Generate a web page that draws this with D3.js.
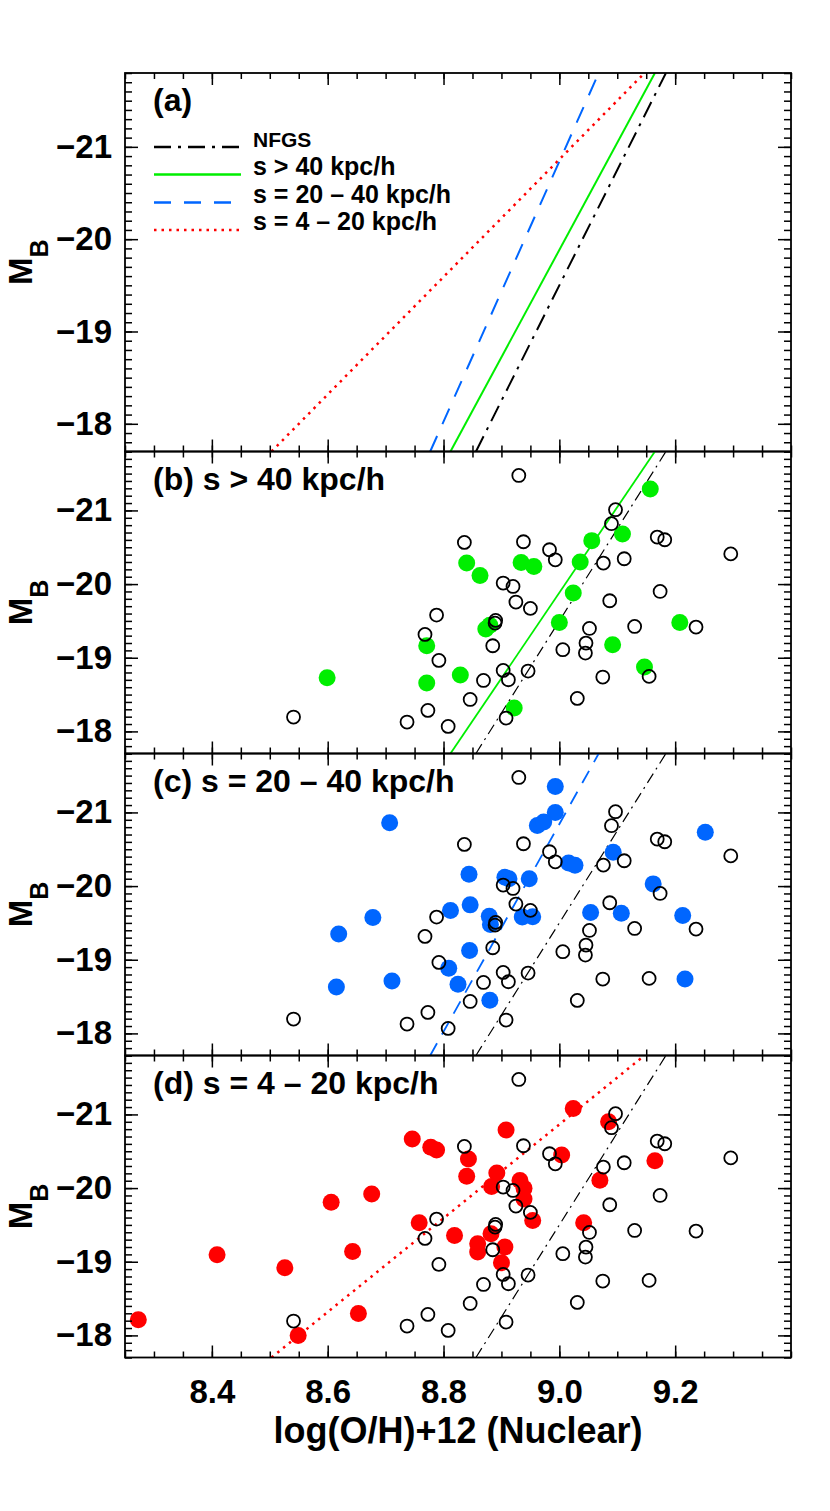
<!DOCTYPE html>
<html>
<head>
<meta charset="utf-8">
<style>
    body { margin: 0; background: #fff; }
    text { font-family: "Liberation Sans", Arial, Helvetica, sans-serif; font-weight: bold; }
</style>
</head>
<body>
<script src="https://d3js.org/d3.v7.min.js"></script>
<script>
    const width = 830;
    const height = 1511;
    const left = 125;
    const right = 791;
    const fontFamily = '"Liberation Sans", Arial, Helvetica, sans-serif';

    // panel frames (px)
    const panelTop = [73, 451.5, 753.5, 1055.5];
    const panelBottom = [451.5, 753.5, 1055.5, 1357.5];

    const xDomain = [8.25, 9.4];
    const yDomain = [-17.7, -21.8];
    const xTicks = [8.4, 8.6, 8.8, 9.0, 9.2];
    const yTicks = [-21, -20, -19, -18];

    const panelLabels = ["(a)", "(b) s > 40 kpc/h", "(c) s = 20 \u2013 40 kpc/h", "(d) s = 4 \u2013 20 kpc/h"];

    // fitted relations: log(O/H)+12 where the line crosses M_B = -17.7 and M_B = -21.8
    const fitNames = ["NFGS", "s > 40 kpc/h", "s = 20 \u2013 40 kpc/h", "s = 4 \u2013 20 kpc/h"];
    const fitOHfaint = [8.856, 8.812, 8.777, 8.503];
    const fitOHbright = [9.184, 9.165, 9.068, 9.147];
    const fitColors = ["#000000", "#00ee00", "#0066ff", "#ff0000"];

    // NFGS sample (open circles, same in b, c, d)
    const nfgsOH = [8.930, 9.097, 9.090, 8.836, 8.938, 8.983, 8.993, 9.076, 9.112, 9.169, 9.182, 9.296,
        8.903, 8.920, 8.925, 8.950, 9.087, 9.174, 8.788, 8.890, 8.889, 8.768, 9.052, 9.130, 9.236,
        9.046, 9.045, 9.006, 8.885, 8.792, 8.903, 8.912, 8.946, 8.869, 9.075, 9.155, 8.846, 9.031,
        8.773, 8.541, 8.737, 8.808, 8.908];
    const nfgsMB = [-21.475, -21.01, -20.82, -20.566, -20.575, -20.466, -20.33, -20.285, -20.344, -20.638, -20.602, -20.41,
        -20.014, -19.968, -19.756, -19.67, -19.774, -19.90, -19.579, -19.507, -19.47, -19.317, -19.398, -19.425, -19.416,
        -19.199, -19.063, -19.109, -19.163, -18.964, -18.828, -18.701, -18.819, -18.692, -18.738, -18.747, -18.434, -18.448,
        -18.285, -18.195, -18.127, -18.068, -18.181];

    // s > 40 kpc/h
    const farOH = [9.157, 9.109, 9.056, 8.840, 8.863, 8.934, 8.956, 9.036, 9.024, 8.873, 8.880, 9.000, 9.208,
        8.771, 9.092, 9.147, 8.599, 8.771, 8.829, 8.922];
    const farMB = [-21.29, -20.68, -20.59, -20.285, -20.118, -20.294, -20.24, -20.30, -19.878, -19.39, -19.44, -19.48, -19.48,
        -19.163, -19.176, -18.873, -18.729, -18.656, -18.765, -18.317];

    // s = 20 - 40 kpc/h
    const midOH = [8.993, 8.993, 8.707, 8.962, 8.973, 9.252, 9.093, 9.016, 9.027, 8.844, 8.906, 8.913, 8.948, 9.162,
        8.846, 8.812, 8.678, 8.879, 8.881, 8.936, 8.954, 9.054, 9.107, 9.213, 8.619, 8.845, 8.809, 8.711, 8.615,
        8.825, 8.880, 9.217];
    const midMB = [-21.352, -21.0, -20.86, -20.824, -20.87, -20.73, -20.458, -20.314, -20.282, -20.16, -20.12, -20.10, -20.10, -20.03,
        -19.745, -19.668, -19.573, -19.59, -19.478, -19.58, -19.583, -19.64, -19.632, -19.60, -19.348, -19.126, -18.883, -18.711, -18.63,
        -18.666, -18.45, -18.74];

    // s = 4 - 20 kpc/h
    const nearOH = [9.024, 9.085, 8.908, 8.746, 8.778, 8.788, 9.004, 9.165, 8.843, 8.840, 8.892, 8.932, 8.883, 8.939,
        9.070, 8.939, 8.676, 8.606, 8.954, 8.758, 9.042, 8.819, 8.882, 8.859, 8.906, 8.859, 8.409, 8.643, 8.526,
        8.900, 8.653, 8.273, 8.549];
    const nearMB = [-21.08, -20.90, -20.788, -20.666, -20.553, -20.517, -20.449, -20.372, -20.395, -20.16, -20.205, -20.102, -20.02, -19.998,
        -20.106, -19.853, -19.921, -19.808, -19.56, -19.528, -19.528, -19.357, -19.38, -19.244, -19.20, -19.131, -19.095, -19.14, -18.919,
        -18.986, -18.296, -18.214, -18.0];

    const samples = [null, [farOH, farMB], [midOH, midMB], [nearOH, nearMB]];

    const svg = d3.select("body").append("svg")
        .attr("width", width).attr("height", height)
        .style("background", "#fff");

    const x = d3.scaleLinear().domain(xDomain).range([left, right]);

    const xMinor = d3.range(165, 189).map(v => v / 20);   // every 0.05
    const yMinor = d3.range(-218, -176).map(v => v / 10); // every 0.1

    function styleAxis(g, size) {
        g.attr("font-family", fontFamily).attr("font-size", size).attr("font-weight", "bold");
        g.select(".domain").remove();
        g.selectAll(".tick line").attr("stroke", "#000").attr("stroke-width", 1.5);
        g.selectAll(".tick text").attr("fill", "#000");
    }

    function fitLine(g, y, k, w, dash) {
        g.append("line")
            .attr("x1", x(fitOHfaint[k])).attr("y1", y(yDomain[0]))
            .attr("x2", x(fitOHbright[k])).attr("y2", y(yDomain[1]))
            .attr("stroke", fitColors[k])
            .attr("stroke-width", w)
            .attr("stroke-dasharray", dash);
    }

    function drawPanel(p) {
        const top = panelTop[p], bottom = panelBottom[p];
        const y = d3.scaleLinear().domain(yDomain).range([bottom, top]);
        const g = svg.append("g");

        g.append("clipPath").attr("id", "clip" + p)
            .append("rect").attr("x", left).attr("y", top).attr("width", right - left).attr("height", bottom - top);
        const plot = g.append("g").attr("clip-path", `url(#clip${p})`);

        if (p == 0) {
            fitLine(plot, y, 3, 2.5, "2.5,5");
            fitLine(plot, y, 2, 2, "17,13");
            fitLine(plot, y, 1, 2, null);
            fitLine(plot, y, 0, 2, "17,7,3,7");
        } else {
            const dash = [null, null, "14,10", "2.5,5"][p];
            fitLine(plot, y, p, p == 3 ? 2.5 : 1.8, dash);
            fitLine(plot, y, 0, 1.2, "11,5,2,5");

            const [oh, mb] = samples[p];
            plot.append("g").selectAll("circle")
                .data(d3.range(oh.length)).enter().append("circle")
                .attr("cx", i => x(oh[i]))
                .attr("cy", i => y(mb[i]))
                .attr("r", 8.5)
                .attr("fill", fitColors[p]);

            plot.append("g").selectAll("circle")
                .data(d3.range(nfgsOH.length)).enter().append("circle")
                .attr("cx", i => x(nfgsOH[i]))
                .attr("cy", i => y(nfgsMB[i]))
                .attr("r", 6.5)
                .attr("fill", "none")
                .attr("stroke", "#000")
                .attr("stroke-width", 1.8);
        }

        // ticks on all four sides, pointing inward
        g.append("g").attr("transform", `translate(${left},0)`)
            .call(d3.axisLeft(y).tickValues(yMinor).tickSize(-7).tickFormat(""))
            .call(a => styleAxis(a, 10));
        g.append("g").attr("transform", `translate(${left},0)`)
            .call(d3.axisLeft(y).tickValues(yTicks).tickSize(-13).tickPadding(13).tickFormat(d3.format("d")))
            .call(a => styleAxis(a, 33));
        g.append("g").attr("transform", `translate(${right},0)`)
            .call(d3.axisRight(y).tickValues(yMinor).tickSize(-7).tickFormat(""))
            .call(a => styleAxis(a, 10));
        g.append("g").attr("transform", `translate(${right},0)`)
            .call(d3.axisRight(y).tickValues(yTicks).tickSize(-13).tickFormat(""))
            .call(a => styleAxis(a, 10));

        g.append("g").attr("transform", `translate(0,${top})`)
            .call(d3.axisTop(x).tickValues(xMinor).tickSize(-6).tickFormat(""))
            .call(a => styleAxis(a, 10));
        g.append("g").attr("transform", `translate(0,${top})`)
            .call(d3.axisTop(x).tickValues(xTicks).tickSize(-12).tickFormat(""))
            .call(a => styleAxis(a, 10));
        g.append("g").attr("transform", `translate(0,${bottom})`)
            .call(d3.axisBottom(x).tickValues(xMinor).tickSize(-6).tickFormat(""))
            .call(a => styleAxis(a, 10));
        g.append("g").attr("transform", `translate(0,${bottom})`)
            .call(d3.axisBottom(x).tickValues(xTicks).tickSize(-12).tickPadding(22)
                .tickFormat(p == 3 ? d3.format(".1f") : ""))
            .call(a => styleAxis(a, 33));

        g.append("rect")
            .attr("x", left).attr("y", top)
            .attr("width", right - left).attr("height", bottom - top)
            .attr("fill", "none").attr("stroke", "#000").attr("stroke-width", 1.8);

        g.append("text")
            .attr("x", 153).attr("y", top + 38)
            .attr("font-size", 32)
            .text(panelLabels[p]);

        const yl = g.append("text")
            .attr("transform", `translate(32,${(top + bottom) / 2}) rotate(-90)`)
            .attr("text-anchor", "middle");
        yl.append("tspan").attr("font-size", 33).text("M");
        yl.append("tspan").attr("font-size", 25).attr("dy", 16).text("B");

        return y;
    }

    panelTop.forEach((t, p) => drawPanel(p));

    // legend in panel (a)
    const legRows = [147, 174.5, 202.5, 230];
    const legDash = ["17,7,3,7", null, "17,13", "2.5,5"];
    const legend = svg.append("g");
    fitNames.forEach((name, k) => {
        legend.append("line")
            .attr("x1", 154).attr("x2", 241)
            .attr("y1", legRows[k]).attr("y2", legRows[k])
            .attr("stroke", fitColors[k])
            .attr("stroke-width", 2.5)
            .attr("stroke-dasharray", legDash[k]);
        legend.append("text")
            .attr("x", 253).attr("y", legRows[k])
            .attr("font-size", k == 0 ? 21 : 25)
            .text(name);
    });

    svg.append("text")
        .attr("x", (left + right) / 2).attr("y", 1443)
        .attr("text-anchor", "middle")
        .attr("font-size", 36)
        .text("log(O/H)+12 (Nuclear)");
</script>
</body>
</html>
